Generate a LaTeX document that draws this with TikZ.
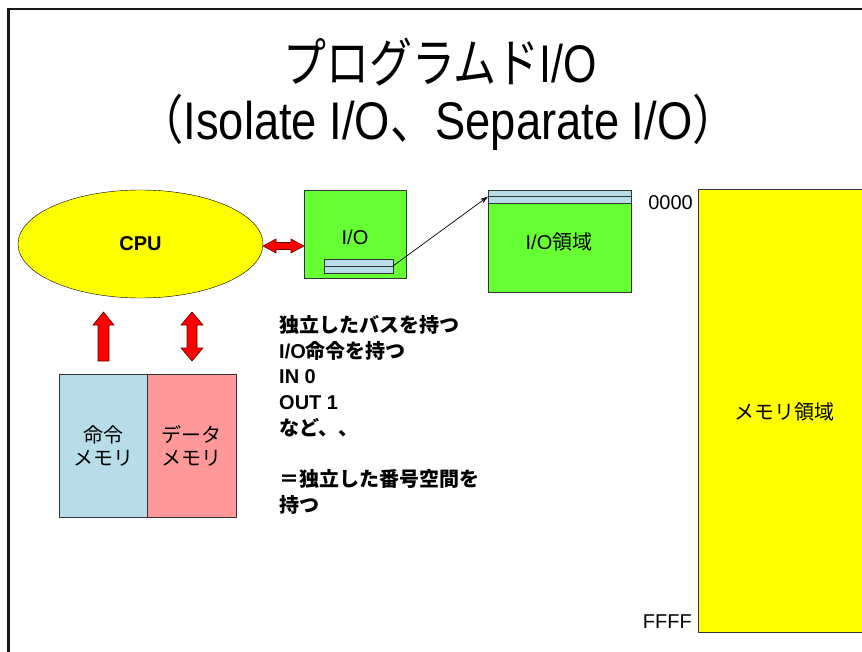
\documentclass[tikz,border=0pt]{standalone}
\usepackage{fontspec}
\setmainfont{Liberation Sans}
\newfontfamily\jp{Noto Sans CJK JP}
\usetikzlibrary{shapes.geometric,arrows.meta}
\newcommand\J[1]{{\jp #1}}
\definecolor{cpuyellow}{HTML}{FFFF00}
\definecolor{iogreen}{HTML}{66FF33}
\definecolor{memblue}{HTML}{B7DEE8}
\definecolor{mempink}{HTML}{FF9999}
\definecolor{arrowred}{HTML}{FF0000}
\begin{document}
\begin{tikzpicture}[x=1pt,y=-1pt,
  txt/.style={font=\fontsize{20}{24}\selectfont, inner sep=0pt},
  titletxt/.style={font=\fontsize{53}{60}\selectfont, inner sep=0pt, anchor=base},
  box/.style={draw=black!80, line width=0.8pt, inner sep=0pt, outer sep=0pt},
  redarrow/.style={fill=arrowred, draw=black!60!red, line width=0.6pt, line join=miter}]
\useasboundingbox (0,0) rectangle (862,652);
\clip (0,0) rectangle (862,652);
\fill[white] (0,0) rectangle (862,652);
\draw[line width=2.5pt, black!90] (8.5,9) rectangle (900,700);

% title
\node[titletxt] (title1) at (440,83) {\scalebox{0.81}[1]{\J{プログラムド}I/O}};
\node[titletxt] (title2) at (438,140) {\scalebox{0.855}[1]{\J{（}Isolate I/O\J{、}Separate I/O\J{）}}};

% CPU
\node[ellipse, draw, fill=cpuyellow, minimum width=245, minimum height=108, inner sep=0pt,
      font=\bfseries\fontsize{20}{24}\selectfont] (cpu) at (140.5,244) {CPU};

% I/O box
\node[box, fill=iogreen, minimum width=102, minimum height=88, anchor=north west] (io) at (304,190) {};
\node[txt] (iolabel) at (355,237) {I/O};
\node[box, fill=memblue, minimum width=69, minimum height=14, anchor=north west] (reg) at (324,259) {};
\draw[black!80, line width=0.8pt] (reg.west) -- (reg.east);

% I/O area
\node[box, fill=iogreen, minimum width=143, minimum height=102, anchor=north west] (ioarea) at (488,190) {};
\node[box, fill=memblue, minimum width=143, minimum height=13, anchor=north west] (strip) at (488,190) {};
\draw[black!80, line width=0.8pt] (strip.west) -- (strip.east);
\node[txt] (ioarealabel) at (559,242) {I/O\J{領域}};
\draw[-{Stealth[length=8pt,width=5pt]}, line width=0.7pt] (reg.east) -- (strip.west);

% memory space
\node[box, fill=cpuyellow, minimum width=220, minimum height=443, anchor=north west] (mem) at (698,189) {};
\node[txt] (memlabel) at (784,412) {\J{メモリ領域}};
\node[txt, anchor=east] (addr0) at (693,203) {0000};
\node[txt, anchor=east] (addrF) at (692,622) {FFFF};

% instruction / data memory
\node[box, fill=memblue, minimum width=88, minimum height=143, anchor=north west] (imem) at (59,374) {};
\node[box, fill=mempink, minimum width=89, minimum height=143, anchor=north west] (dmem) at (147,374) {};
\node[txt, align=center, font=\jp\fontsize{20}{23}\selectfont] (imemlabel) at (imem.center) {命令\\メモリ};
\node[txt, align=center, font=\jp\fontsize{20}{23}\selectfont] (dmemlabel) at (dmem.center) {データ\\メモリ};

% red arrows
\filldraw[redarrow] (263,246) -- (276,239) -- (276,242.5) -- (291,242.5) -- (291,239) -- (304,246)
  -- (291,253) -- (291,249.5) -- (276,249.5) -- (276,253) -- cycle;
\filldraw[redarrow] (103.5,312) -- (114,325) -- (109,325) -- (109,361) -- (98,361) -- (98,325) -- (93,325) -- cycle;
\filldraw[redarrow] (192,312) -- (203,325) -- (197,325) -- (197,348) -- (203,348) -- (192,361)
  -- (181,348) -- (187,348) -- (187,325) -- (181,325) -- cycle;

% description
\node[anchor=north west, align=left, inner sep=0pt, font=\bfseries\fontsize{20}{25.7}\selectfont] (desc) at (279,315)
  {\J{独立したバスを持つ}\\
   I/O\J{命令を持つ}\\
   IN 0\\
   OUT 1\\
   \J{など、、}\\[25.7pt]
   \J{＝独立した番号空間を}\\
   \J{持つ}};
\end{tikzpicture}
\end{document}
